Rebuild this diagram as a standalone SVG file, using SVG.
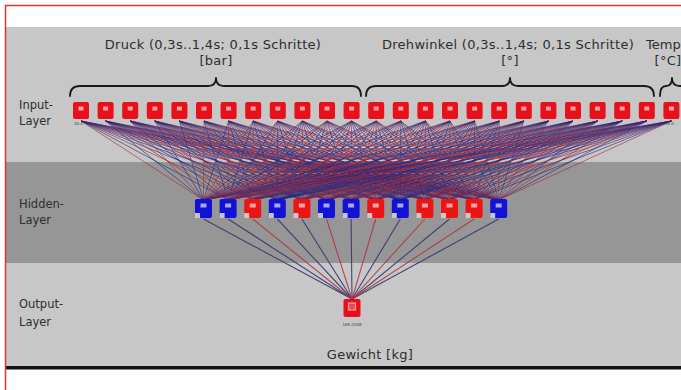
<svg xmlns="http://www.w3.org/2000/svg" xmlns:xlink="http://www.w3.org/1999/xlink" width="681" height="390" viewBox="0 0 681 390">
<style>
.t{font-family:"DejaVu Sans","Liberation Sans",sans-serif;fill:#2e2e2e;}
.h{font-size:13px;text-anchor:middle;letter-spacing:0.3px;}
.l{font-size:11.5px;}
.s{font-size:4px;fill:#444;font-family:"DejaVu Sans",sans-serif;}
.br{fill:none;stroke:#1a1a1a;stroke-width:1.8;stroke-linecap:round;stroke-linejoin:round;}
.cr{fill:none;stroke:#a82838;stroke-width:0.9;stroke-opacity:0.7;vector-effect:non-scaling-stroke;}
.cb{fill:none;stroke:#2a2a7e;stroke-width:0.9;stroke-opacity:0.7;vector-effect:non-scaling-stroke;}
.or{fill:none;stroke:#b03040;stroke-width:1.1;stroke-opacity:0.85;}
.ob{fill:none;stroke:#36366e;stroke-width:1.1;stroke-opacity:0.9;}
</style>
<defs>
<g id="inNode"><rect x="0" y="0" width="16" height="17" rx="2" fill="#e8101a"/><rect x="5.5" y="4.5" width="5" height="4" fill="#f6a2a2"/></g>
<g id="hbNode"><rect x="0" y="0" width="17" height="19" rx="2" fill="#1212d6"/><rect x="5.5" y="4.5" width="6" height="4" fill="#a8a8f4"/><rect x="0" y="14" width="5" height="5" fill="#c4c4d8"/></g>
<g id="hrNode"><rect x="0" y="0" width="17" height="19" rx="2" fill="#ee1414"/><rect x="5.5" y="4.5" width="6" height="4" fill="#f6a8a8"/><rect x="0" y="14" width="5" height="5" fill="#dcc4c4"/></g>
<g id="fa"><path class="cr" d="M0 0L203.5 79M0 0L252.7 79M0 0L326.5 79M0 0L375.7 79M0 0L449.5 79M0 0L474.1 79"/><path class="cb" d="M0 0L228.1 79M0 0L277.3 79M0 0L301.9 79M0 0L351.1 79M0 0L400.3 79M0 0L424.9 79M0 0L498.7 79"/></g>
<g id="fb"><path class="cr" d="M0 0L228.1 79M0 0L301.9 79M0 0L351.1 79M0 0L424.9 79M0 0L498.7 79"/><path class="cb" d="M0 0L203.5 79M0 0L252.7 79M0 0L277.3 79M0 0L326.5 79M0 0L375.7 79M0 0L400.3 79M0 0L449.5 79M0 0L474.1 79"/></g>
</defs>
<rect x="0" y="0" width="681" height="390" fill="#ffffff"/>
<g id="background">
<rect x="6" y="27" width="675" height="135" fill="#c7c7c7"/>
<rect x="6" y="162" width="675" height="101" fill="#969696"/>
<rect x="6" y="263" width="675" height="103" fill="#c7c7c7"/>
<rect x="6" y="366" width="675" height="3.5" fill="#111"/>
<path d="M5.5 390V5.5H681" fill="none" stroke="#d03a3a" stroke-width="1.5"/>
</g>
<g id="labels">
<text class="t h" x="213" y="49">Druck (0,3s..1,4s; 0,1s Schritte)</text>
<text class="t h" x="216" y="65">[bar]</text>
<text class="t h" x="508" y="49">Drehwinkel (0,3s..1,4s; 0,1s Schritte)</text>
<text class="t h" x="510" y="65">[°]</text>
<text class="t" x="646" y="49" font-size="13">Temp</text>
<text class="t h" x="668" y="65">[°C]</text>
<text class="t l" x="19" y="109">Input-</text>
<text class="t l" x="19" y="125">Layer</text>
<text class="t l" x="19" y="208">Hidden-</text>
<text class="t l" x="19" y="224">Layer</text>
<text class="t l" x="19" y="308">Output-</text>
<text class="t l" x="19" y="326">Layer</text>
<text class="t h" x="370" y="359">Gewicht [kg]</text>
</g>
<g id="braces">
<path class="br" d="M70 96Q70 86 80 86L208 86Q216 86 216 78Q216 86 224 86L352 86Q361 86 361 96"/>
<path class="br" d="M366 96Q366 86 376 86L502 86Q510 86 510 78Q510 86 518 86L644 86Q654 86 654 96"/>
<path class="br" d="M660 96Q660 86 666 86Q672 86 672 78Q672 86 680 86L684 86"/>
</g>
<g id="connectors">
<use xlink:href="#fa" href="#fa" transform="matrix(1 0 -1.02532 1 81 121)"/>
<use xlink:href="#fb" href="#fb" transform="matrix(1 0 -1.33671 1 105.6 121)"/>
<use xlink:href="#fa" href="#fa" transform="matrix(1 0 -1.64810 1 130.2 121)"/>
<use xlink:href="#fb" href="#fb" transform="matrix(1 0 -1.95949 1 154.8 121)"/>
<use xlink:href="#fb" href="#fb" transform="matrix(1 0 -2.27089 1 179.4 121)"/>
<use xlink:href="#fa" href="#fa" transform="matrix(1 0 -2.58228 1 204 121)"/>
<use xlink:href="#fb" href="#fb" transform="matrix(1 0 -2.89367 1 228.6 121)"/>
<use xlink:href="#fa" href="#fa" transform="matrix(1 0 -3.20506 1 253.2 121)"/>
<use xlink:href="#fa" href="#fa" transform="matrix(1 0 -3.51646 1 277.8 121)"/>
<use xlink:href="#fb" href="#fb" transform="matrix(1 0 -3.82785 1 302.4 121)"/>
<use xlink:href="#fa" href="#fa" transform="matrix(1 0 -4.13924 1 327 121)"/>
<use xlink:href="#fb" href="#fb" transform="matrix(1 0 -4.45063 1 351.6 121)"/>
<use xlink:href="#fb" href="#fb" transform="matrix(1 0 -4.76203 1 376.2 121)"/>
<use xlink:href="#fa" href="#fa" transform="matrix(1 0 -5.07342 1 400.8 121)"/>
<use xlink:href="#fb" href="#fb" transform="matrix(1 0 -5.38481 1 425.4 121)"/>
<use xlink:href="#fa" href="#fa" transform="matrix(1 0 -5.69620 1 450 121)"/>
<use xlink:href="#fa" href="#fa" transform="matrix(1 0 -6.00759 1 474.6 121)"/>
<use xlink:href="#fb" href="#fb" transform="matrix(1 0 -6.31899 1 499.2 121)"/>
<use xlink:href="#fa" href="#fa" transform="matrix(1 0 -6.63038 1 523.8 121)"/>
<use xlink:href="#fb" href="#fb" transform="matrix(1 0 -6.94177 1 548.4 121)"/>
<use xlink:href="#fb" href="#fb" transform="matrix(1 0 -7.25316 1 573 121)"/>
<use xlink:href="#fa" href="#fa" transform="matrix(1 0 -7.56456 1 597.6 121)"/>
<use xlink:href="#fb" href="#fb" transform="matrix(1 0 -7.87595 1 622.2 121)"/>
<use xlink:href="#fa" href="#fa" transform="matrix(1 0 -8.18734 1 646.8 121)"/>
<use xlink:href="#fb" href="#fb" transform="matrix(1 0 -8.49873 1 671.4 121)"/>
<path class="ob" d="M203.5 219L352 299M228.1 219L352 299M277.3 219L352 299M301.9 219L352 299M351.1 219L352 299M400.3 219L352 299M449.5 219L352 299M498.7 219L352 299"/>
<path class="or" d="M252.7 219L352 299M326.5 219L352 299M375.7 219L352 299M424.9 219L352 299M474.1 219L352 299"/>
</g>
<g id="input-nodes">
<g id="in1"><use href="#inNode" x="73" y="102"/><text class="s" x="74" y="125">30.4</text></g>
<g id="in2"><use href="#inNode" x="97.6" y="102"/></g>
<g id="in3"><use href="#inNode" x="122.2" y="102"/></g>
<g id="in4"><use href="#inNode" x="146.8" y="102"/></g>
<g id="in5"><use href="#inNode" x="171.4" y="102"/></g>
<g id="in6"><use href="#inNode" x="196" y="102"/></g>
<g id="in7"><use href="#inNode" x="220.6" y="102"/></g>
<g id="in8"><use href="#inNode" x="245.2" y="102"/></g>
<g id="in9"><use href="#inNode" x="269.8" y="102"/></g>
<g id="in10"><use href="#inNode" x="294.4" y="102"/></g>
<g id="in11"><use href="#inNode" x="319" y="102"/></g>
<g id="in12"><use href="#inNode" x="343.6" y="102"/></g>
<g id="in13"><use href="#inNode" x="368.2" y="102"/></g>
<g id="in14"><use href="#inNode" x="392.8" y="102"/></g>
<g id="in15"><use href="#inNode" x="417.4" y="102"/></g>
<g id="in16"><use href="#inNode" x="442" y="102"/></g>
<g id="in17"><use href="#inNode" x="466.6" y="102"/></g>
<g id="in18"><use href="#inNode" x="491.2" y="102"/></g>
<g id="in19"><use href="#inNode" x="515.8" y="102"/></g>
<g id="in20"><use href="#inNode" x="540.4" y="102"/></g>
<g id="in21"><use href="#inNode" x="565" y="102"/></g>
<g id="in22"><use href="#inNode" x="589.6" y="102"/></g>
<g id="in23"><use href="#inNode" x="614.2" y="102"/></g>
<g id="in24"><use href="#inNode" x="638.8" y="102"/></g>
<g id="in25"><use href="#inNode" x="663.4" y="102"/><text class="s" x="665" y="125">35.0</text></g>
</g>
<g id="hidden-nodes">
<g id="h1"><use href="#hbNode" x="195" y="199"/></g>
<g id="h2"><use href="#hbNode" x="219.6" y="199"/></g>
<g id="h3"><use href="#hrNode" x="244.2" y="199"/></g>
<g id="h4"><use href="#hbNode" x="268.8" y="199"/></g>
<g id="h5"><use href="#hrNode" x="293.4" y="199"/></g>
<g id="h6"><use href="#hbNode" x="318" y="199"/></g>
<g id="h7"><use href="#hbNode" x="342.6" y="199"/></g>
<g id="h8"><use href="#hrNode" x="367.2" y="199"/></g>
<g id="h9"><use href="#hbNode" x="391.8" y="199"/></g>
<g id="h10"><use href="#hrNode" x="416.4" y="199"/></g>
<g id="h11"><use href="#hrNode" x="441" y="199"/></g>
<g id="h12"><use href="#hrNode" x="465.6" y="199"/></g>
<g id="h13"><use href="#hbNode" x="490.2" y="199"/></g>
</g>
<g id="output-node">
<rect x="343.5" y="299" width="17" height="18" rx="2" fill="#e8101a"/>
<rect x="348.5" y="303" width="7" height="7" fill="#e84a50" stroke="#f6a8a8" stroke-width="1.2"/>
<text class="s" x="352" y="326" text-anchor="middle">165.2008</text>
</g>
</svg>
